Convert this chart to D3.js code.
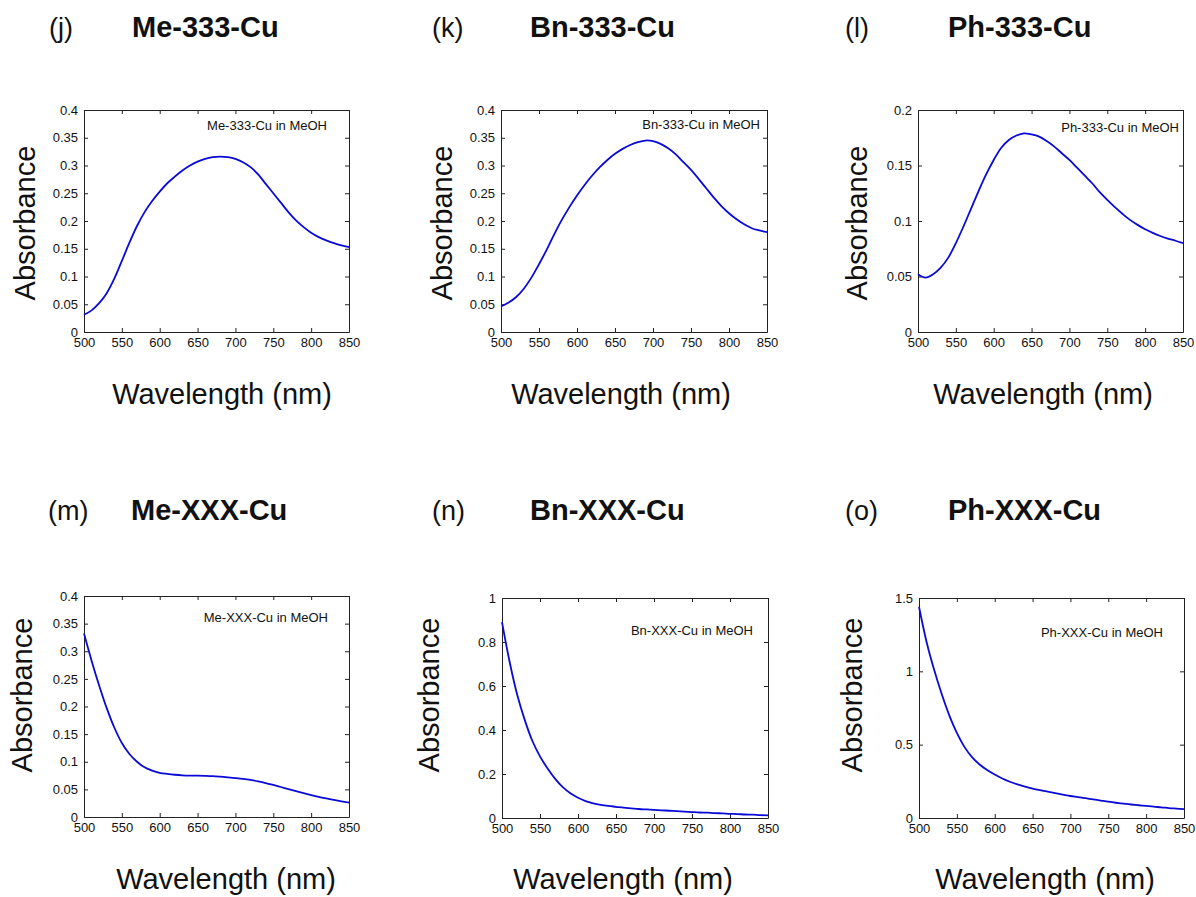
<!DOCTYPE html>
<html>
<head>
<meta charset="utf-8">
<script src="https://cdn.jsdelivr.net/npm/d3@7"></script>
<style>
  body { margin: 0; background: #fff; }
  svg { display: block; }
  text { font-family: "Liberation Sans", Arial, Helvetica, sans-serif; fill: #111; }
</style>
</head>
<body>
<div class="canvas"></div>
<script>
// wavelength grid (nm), one reading every 10 nm
const wavelengths = [500,510,520,530,540,550,560,570,580,590,600,610,620,630,640,650,660,670,
                     680,690,700,710,720,730,740,750,760,770,780,790,800,810,820,830,840,850];

const me333 = [0.031,0.039,0.052,0.070,0.096,0.128,0.161,0.191,0.216,0.236,0.253,0.268,0.280,0.291,0.300,0.307,0.312,0.315,
               0.316,0.315,0.312,0.306,0.297,0.284,0.267,0.250,0.233,0.216,0.201,0.189,0.179,0.171,0.165,0.160,0.156,0.153];
const bn333 = [0.046,0.053,0.063,0.078,0.098,0.122,0.148,0.176,0.202,0.225,0.246,0.265,0.282,0.297,0.310,0.321,0.330,0.337,
               0.342,0.345,0.344,0.339,0.331,0.320,0.306,0.292,0.276,0.259,0.242,0.227,0.214,0.203,0.194,0.187,0.183,0.180];
const ph333 = [0.052,0.049,0.052,0.058,0.067,0.080,0.095,0.111,0.127,0.142,0.155,0.166,0.173,0.177,0.179,0.178,0.176,0.172,
               0.167,0.161,0.155,0.148,0.141,0.134,0.126,0.119,0.1125,0.1065,0.101,0.0965,0.0925,0.0893,0.0865,0.0842,0.0822,0.080];
const meXXX = [0.332,0.283,0.238,0.197,0.162,0.134,0.114,0.100,0.090,0.084,0.080,0.078,0.0765,0.0755,0.075,0.0748,0.0745,0.074,
               0.073,0.0718,0.0705,0.069,0.067,0.0645,0.0615,0.058,0.0543,0.0505,0.0468,0.0432,0.0398,0.0366,0.0336,0.0309,0.0284,0.026];
const bnXXX = [0.89,0.71,0.56,0.445,0.35,0.28,0.225,0.178,0.14,0.112,0.092,0.077,0.067,0.060,0.055,0.051,0.047,0.044,
               0.041,0.039,0.037,0.035,0.033,0.031,0.029,0.027,0.025,0.024,0.022,0.021,0.019,0.018,0.016,0.015,0.013,0.012];
const phXXX = [1.44,1.20,1.01,0.845,0.70,0.58,0.485,0.415,0.365,0.327,0.296,0.269,0.247,0.229,0.214,0.201,0.190,0.180,
               0.170,0.160,0.150,0.143,0.135,0.127,0.119,0.111,0.104,0.098,0.092,0.087,0.082,0.077,0.073,0.068,0.064,0.060];

const xTicks = [500,550,600,650,700,750,800,850];
const yTicks05 = [0,0.05,0.1,0.15,0.2,0.25,0.3,0.35,0.4];
const yTicksPh = [0,0.05,0.1,0.15,0.2];
const yTicksBn = [0,0.2,0.4,0.6,0.8,1];
const yTicksPhX = [0,0.5,1,1.5];

const tags = ["(j)","(k)","(l)","(m)","(n)","(o)"];
const titles = ["Me-333-Cu","Bn-333-Cu","Ph-333-Cu","Me-XXX-Cu","Bn-XXX-Cu","Ph-XXX-Cu"];
const series = [me333, bn333, ph333, meXXX, bnXXX, phXXX];
const yTickSets = [yTicks05, yTicks05, yTicksPh, yTicks05, yTicksBn, yTicksPhX];

// layout of each panel (pixels)
const layout = [
  {left:84,  top:110, w:265, h:222, tagX:49,  titleX:132, titleY:37,  yLabX:35,  yLabY:223, xLabX:222,  xLabY:404, noteR:327,  noteY:130},
  {left:501, top:110, w:266, h:222, tagX:432, titleX:530, titleY:37,  yLabX:452, yLabY:223, xLabX:621,  xLabY:404, noteR:760,  noteY:129},
  {left:918, top:110, w:265, h:222, tagX:845, titleX:948, titleY:37,  yLabX:867, yLabY:223, xLabX:1043, xLabY:404, noteR:1179, noteY:132},
  {left:84,  top:596, w:265, h:221, tagX:48,  titleX:131, titleY:520, yLabX:32,  yLabY:695, xLabX:226,  xLabY:889, noteR:328,  noteY:622},
  {left:502, top:598, w:266, h:220, tagX:432, titleX:530, titleY:520, yLabX:439, yLabY:695, xLabX:623,  xLabY:889, noteR:753,  noteY:635},
  {left:919, top:598, w:265, h:220, tagX:845, titleX:948, titleY:520, yLabX:862, yLabY:695, xLabX:1045, xLabY:889, noteR:1163, noteY:637}
];

const fmt = d => String(+d.toFixed(2));

const svg = d3.select(".canvas").append("svg")
    .attr("width", 1196)
    .attr("height", 897);

series.forEach((vals, i) => {
    const L = layout[i];
    const ticks = yTickSets[i];
    const x = d3.scaleLinear().domain([500, 850]).range([0, L.w]);
    const y = d3.scaleLinear().domain([0, ticks[ticks.length - 1]]).range([L.h, 0]);

    svg.append("text")
        .attr("x", L.tagX).attr("y", L.titleY)
        .style("font-size", "27px")
        .text(tags[i]);
    svg.append("text")
        .attr("x", L.titleX).attr("y", L.titleY)
        .style("font-size", "29px").style("font-weight", "bold")
        .text(titles[i]);

    const g = svg.append("g").attr("transform", `translate(${L.left},${L.top})`);

    // inward ticks on all four sides
    g.append("g").attr("transform", `translate(0,${L.h})`)
        .call(d3.axisBottom(x).tickValues(xTicks).tickFormat(fmt).tickSizeInner(-4).tickSizeOuter(0).tickPadding(6));
    g.append("g")
        .call(d3.axisTop(x).tickValues(xTicks).tickFormat("").tickSizeInner(-4).tickSizeOuter(0));
    g.append("g")
        .call(d3.axisLeft(y).tickValues(ticks).tickFormat(fmt).tickSizeInner(-4).tickSizeOuter(0).tickPadding(6));
    g.append("g").attr("transform", `translate(${L.w},0)`)
        .call(d3.axisRight(y).tickValues(ticks).tickFormat("").tickSizeInner(-4).tickSizeOuter(0));

    g.selectAll(".tick text").style("font-size", "13px").style("font-family", "'Liberation Sans', Arial, sans-serif").attr("fill", "#111");
    g.selectAll(".domain, .tick line").attr("stroke", "#222");

    const line = d3.line()
        .x((d, k) => x(wavelengths[k]))
        .y(d => y(d))
        .curve(d3.curveCatmullRom);

    g.append("path")
        .datum(vals)
        .attr("d", line)
        .attr("fill", "none")
        .attr("stroke", "#0a0ad6")
        .attr("stroke-width", 1.8);

    svg.append("text")
        .attr("x", L.noteR).attr("y", L.noteY)
        .attr("text-anchor", "end")
        .style("font-size", "13px")
        .text(titles[i] + " in MeOH");

    svg.append("text")
        .attr("transform", `translate(${L.yLabX},${L.yLabY}) rotate(-90)`)
        .attr("text-anchor", "middle")
        .style("font-size", "29px")
        .text("Absorbance");

    svg.append("text")
        .attr("x", L.xLabX).attr("y", L.xLabY)
        .attr("text-anchor", "middle")
        .style("font-size", "29px")
        .text("Wavelength (nm)");
});
</script>
</body>
</html>
